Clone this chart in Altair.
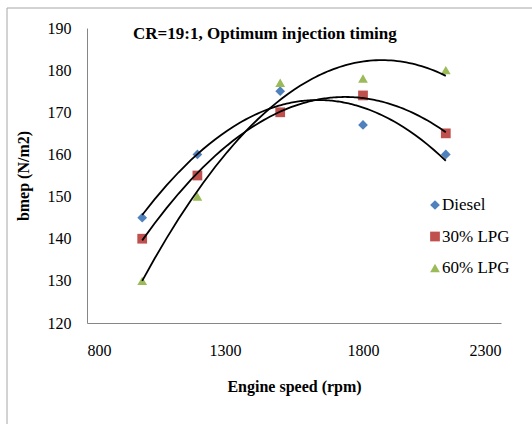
import altair as alt
import pandas as pd

# Engine speed (rpm) and brake mean effective pressure for each fuel
speeds = [1000, 1200, 1500, 1800, 2100]
diesel = [145, 160, 175, 167, 160]
lpg30 = [140, 155, 170, 174, 165]
lpg60 = [130, 150, 177, 178, 180]

series_names = ["Diesel", "30% LPG", "60% LPG"]
series_colors = ["#4F81BD", "#C0504D", "#9BBB59"]
series_shapes = ["diamond", "square", "triangle-up"]

rows = []
for name, vals in zip(series_names, [diesel, lpg30, lpg60]):
    for s, v in zip(speeds, vals):
        rows.append({"speed": s, "bmep": v, "fuel": name})
df = pd.DataFrame(rows)
legend_df = pd.DataFrame({"fuel": series_names})

FONT = "Liberation Serif"

color_scale = alt.Scale(domain=series_names, range=series_colors)
shape_scale = alt.Scale(domain=series_names, range=series_shapes)

x_scale = alt.Scale(domain=[800, 2300], nice=False, zero=False)
y_scale = alt.Scale(domain=[120, 190], nice=False, zero=False)

x_enc = alt.X(
    "speed:Q", scale=x_scale,
    axis=alt.Axis(values=[800, 1300, 1800, 2300], format="d",
                  title="Engine speed (rpm)"),
)
y_enc = alt.Y(
    "bmep:Q", scale=y_scale,
    axis=alt.Axis(values=list(range(120, 191, 10)), format="d", title="bmep (N/m2)"),
)

base = alt.Chart(df)
single = alt.Chart(alt.Data(values=[{}]))

# Outer frame around the figure
frame = single.mark_rect(fill=None, stroke="#a6a6a6", strokeWidth=1).encode(
    x=alt.value(-80), y=alt.value(-20), x2=alt.value(600), y2=alt.value(500)
)

points = base.mark_point(filled=True, opacity=1, size=95).encode(
    x=x_enc,
    y=y_enc,
    color=alt.Color("fuel:N", scale=color_scale, legend=None),
    shape=alt.Shape("fuel:N", scale=shape_scale, legend=None),
)

# Second-order polynomial trend line for each fuel
trends = base.transform_regression(
    "speed", "bmep", groupby=["fuel"], method="poly", order=2, extent=[1000, 2100]
).mark_line(color="black", strokeWidth=1.8).encode(
    x=alt.X("speed:Q", scale=x_scale),
    y=alt.Y("bmep:Q", scale=y_scale),
    detail="fuel:N",
)

data_layer = alt.layer(points, trends)

# Legend drawn inside the plot, on the right
legend_y = alt.Y("fuel:N", axis=None,
                 scale=alt.Scale(type="point", domain=series_names,
                                 range=[177, 240], padding=0))
legend_sym = alt.Chart(legend_df).mark_point(filled=True, opacity=1, size=95).encode(
    x=alt.value(348), y=legend_y,
    color=alt.Color("fuel:N", scale=color_scale, legend=None),
    shape=alt.Shape("fuel:N", scale=shape_scale, legend=None),
)
legend_txt = alt.Chart(legend_df).mark_text(
    font=FONT, fontSize=17, align="left", baseline="middle", color="#000000"
).encode(x=alt.value(355), y=legend_y, text="fuel:N")
legend_layer = alt.layer(legend_sym, legend_txt)

title = single.mark_text(font=FONT, fontSize=17, fontWeight="bold", align="left",
                         baseline="middle", color="#000000").encode(
    x=alt.value(46), y=alt.value(6),
    text=alt.value("CR=19:1, Optimum injection timing"),
)

chart = alt.layer(
    frame, data_layer, legend_layer, title
).resolve_scale(y="independent").properties(
    width=414, height=295,
    autosize=alt.AutoSizeParams(type="none"),
    padding={"left": 87, "top": 28, "right": 31, "bottom": 101},
).configure(font=FONT).configure_view(stroke=None).configure_axis(
    grid=False, ticks=False, domainColor="#868686", domainWidth=1,
    labelFont=FONT, labelFontSize=16, labelColor="#000000",
    titleFont=FONT, titleFontSize=16, titleFontWeight="bold", titleColor="#000000",
).configure_axisX(labelPadding=19, titlePadding=20).configure_axisY(
    labelPadding=16, titlePadding=16
)

chart.save("out.html", embed_options={"renderer": "svg", "actions": False})
